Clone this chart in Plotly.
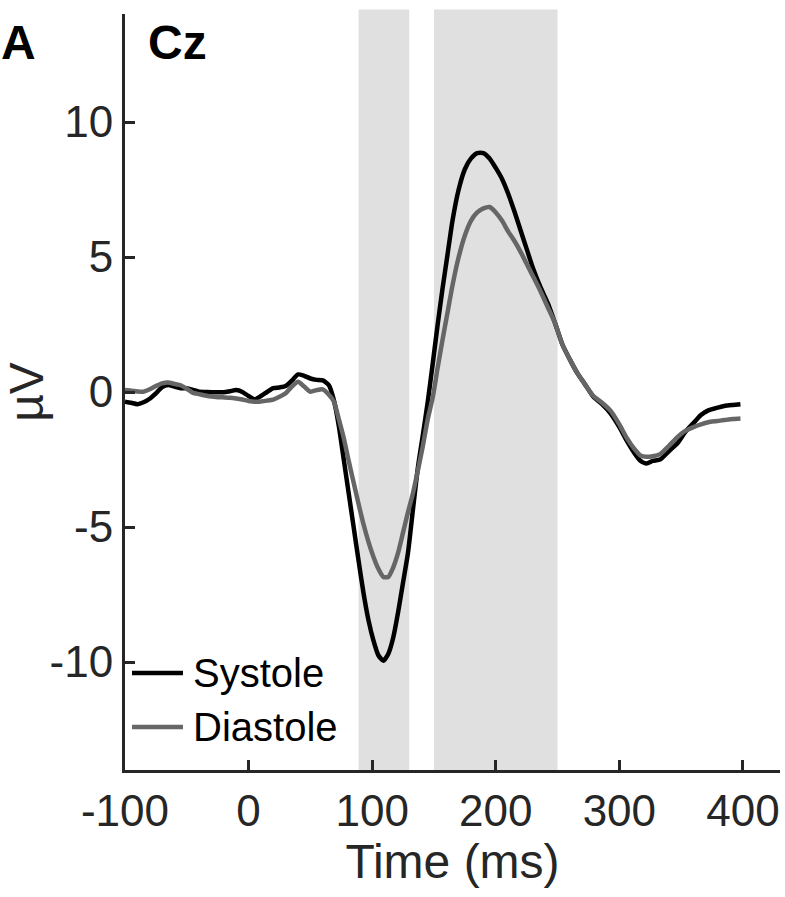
import plotly.graph_objects as go

time_ms = [-100, -95, -90, -85, -80, -75, -70, -65, -60, -55, -50, -45, -40, -35, -30, -25, -20, -15, -10, -5,
           0, 5, 10, 15, 20, 25, 30, 35, 40, 45, 50, 55, 60, 65, 69, 73, 77, 81, 85, 89, 93, 97, 101, 105, 109,
           113, 117, 121, 125, 129, 133, 137, 141, 145, 149, 153, 157, 161, 165, 170, 175, 180, 185, 190, 195,
           200, 205, 210, 215, 220, 225, 230, 236, 242, 248, 254, 260, 266, 272, 279, 286, 293, 300, 306, 312,
           317, 322, 327, 333, 340, 347, 353, 360, 366, 372, 378, 385, 392, 398]

systole_uv = [-0.36, -0.40, -0.45, -0.38, -0.25, -0.05, 0.18, 0.26, 0.20, 0.14, 0.14, 0.08, 0.01, 0.0, -0.01,
              -0.01, -0.01, 0.03, 0.07, 0.0, -0.15, -0.27, -0.15, 0.0, 0.14, 0.17, 0.22, 0.42, 0.65, 0.60, 0.50,
              0.45, 0.43, 0.25, -0.30, -1.25, -2.50, -3.75, -5.00, -6.25, -7.45, -8.45, -9.20, -9.75, -9.95,
              -9.70, -9.10, -8.15, -7.05, -5.95, -4.35, -2.80, -1.60, -0.35, 1.05, 2.50, 3.85, 5.10, 6.35, 7.50,
              8.25, 8.65, 8.85, 8.85, 8.65, 8.30, 7.90, 7.35, 6.70, 6.00, 5.30, 4.60, 3.90, 3.30, 2.55, 1.75,
              1.20, 0.70, 0.30, -0.18, -0.45, -0.80, -1.30, -1.80, -2.25, -2.55, -2.65, -2.55, -2.50, -2.20,
              -1.90, -1.50, -1.15, -0.85, -0.68, -0.60, -0.52, -0.48, -0.45]

diastole_uv = [0.07, 0.05, 0.02, 0.01, 0.10, 0.22, 0.32, 0.35, 0.30, 0.25, 0.12, -0.03, -0.08, -0.13, -0.17,
               -0.19, -0.20, -0.21, -0.24, -0.28, -0.33, -0.36, -0.35, -0.32, -0.28, -0.18, -0.05, 0.20, 0.38,
               0.20, 0.01, 0.07, 0.10, -0.10, -0.35, -1.00, -1.70, -2.55, -3.35, -4.15, -4.90, -5.55, -6.10,
               -6.55, -6.85, -6.85, -6.50, -5.95, -5.20, -4.45, -3.75, -2.90, -2.00, -1.00, -0.20, 0.90, 1.95,
               2.95, 3.95, 5.00, 5.80, 6.35, 6.65, 6.80, 6.85, 6.65, 6.35, 5.95, 5.60, 5.20, 4.75, 4.30, 3.75,
               3.15, 2.55, 1.75, 1.20, 0.70, 0.30, -0.15, -0.40, -0.70, -1.20, -1.70, -2.10, -2.35, -2.40,
               -2.38, -2.30, -2.00, -1.67, -1.45, -1.30, -1.20, -1.12, -1.08, -1.04, -1.00, -0.98]

shaded_windows = [(89, 130), (150, 250)]
x_ticks = [-100, 0, 100, 200, 300, 400]
y_ticks = [-10, -5, 0, 5, 10]
series_names = ["Systole", "Diastole"]
series_colors = ["#000000", "#666666"]

FONT = "Liberation Sans, Arial, Helvetica, sans-serif"
AX = "#262626"

fig = go.Figure()
for name, vals, col in zip(series_names, [systole_uv, diastole_uv], series_colors):
    fig.add_trace(go.Scatter(x=time_ms, y=vals, mode="lines", name=name,
                             line=dict(color=col, width=4.5, shape="spline", smoothing=0.6),
                             showlegend=False))

for (a, b) in shaded_windows:
    fig.add_shape(type="rect", xref="x", yref="paper", x0=a, x1=b, y0=0, y1=1.006,
                  fillcolor="#e0e0e0", line=dict(width=0), layer="below")

# legend drawn manually (long line samples as in the reference)
leg_y = [0.1283, 0.0569]
for name, col, yy in zip(series_names, series_colors, leg_y):
    fig.add_shape(type="line", xref="paper", yref="paper", x0=0.0107, x1=0.0885, y0=yy, y1=yy,
                  line=dict(color=col, width=4.5))
    fig.add_annotation(xref="paper", yref="paper", x=0.1008, y=yy, text=name, showarrow=False,
                       xanchor="left", yanchor="middle", font=dict(family=FONT, size=40, color="#000000"))

fig.add_annotation(xref="paper", yref="paper", x=0.032, y=0.962, text="<b>Cz</b>", showarrow=False,
                   xanchor="left", yanchor="middle", font=dict(family=FONT, size=48, color="#000000"))
fig.add_annotation(xref="paper", yref="paper", x=-0.193, y=0.962, text="<b>A</b>", showarrow=False,
                   xanchor="left", yanchor="middle", font=dict(family=FONT, size=48, color="#000000"))

fig.update_layout(
    width=785, height=897,
    margin=dict(l=125, r=5, t=14, b=127),
    paper_bgcolor="white", plot_bgcolor="white",
    font=dict(family=FONT, color=AX),
    xaxis=dict(range=[-100, 430], tickvals=x_ticks, ticktext=[str(v) for v in x_ticks],
               showgrid=False, zeroline=False, showline=True, linecolor=AX, linewidth=3,
               ticks="inside", ticklen=10, tickwidth=3, tickcolor=AX,
               tickfont=dict(family=FONT, size=44, color=AX),
               title=dict(text="Time (ms)", font=dict(family=FONT, size=48, color=AX), standoff=8)),
    yaxis=dict(range=[-14, 14], tickvals=y_ticks, ticktext=[str(v) for v in y_ticks],
               showgrid=False, zeroline=False, showline=True, linecolor=AX, linewidth=3,
               ticks="inside", ticklen=10, tickwidth=3, tickcolor=AX,
               tickfont=dict(family=FONT, size=44, color=AX),
               title=dict(text="µV", font=dict(family=FONT, size=48, color=AX), standoff=6)),
)

fig.write_html("out.html")
